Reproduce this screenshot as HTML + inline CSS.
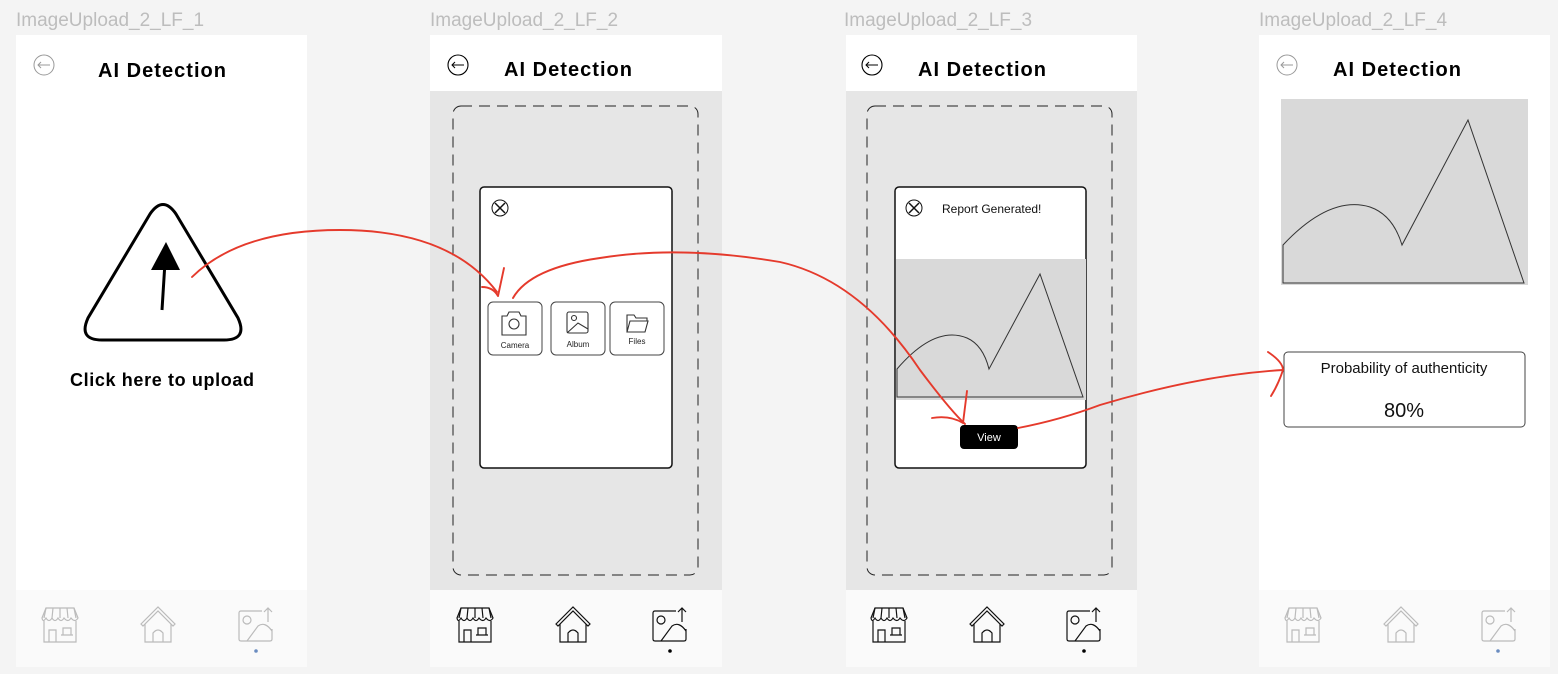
<!DOCTYPE html>
<html><head><style>
body{margin:0;background:#f4f4f4;}
svg{display:block;font-family:"Liberation Sans",sans-serif;}
</style></head><body>
<svg width="1558" height="674" viewBox="0 0 1558 674" xmlns="http://www.w3.org/2000/svg">
<defs>
<g id="store" fill="none" stroke-width="1.2">
 <path d="M2 12 L6 2 H34 L38 12 Q35 17 31 12 Q28 17 24 12 Q21 17 18 12 Q15 17 12 12 Q9 17 6 12 Q3 17 2 12 Z"/>
 <path d="M6 2 L4 12 M13 2 L12 12 M20 2 V12 M27 2 L28 12 M34 2 L36 12"/>
 <path d="M4 15 V36 H36 V15"/>
 <path d="M9 36 V24 H16 V36"/>
 <path d="M21 29 H33 M23 29 V22 H31 V29"/>
</g>
<g id="home" fill="none" stroke-width="1.2">
 <path d="M1 18 L18 1 L35 18 L33 20 L18 5 L3 20 Z"/>
 <path d="M5 18 V36 H31 V18"/>
 <path d="M13 36 V27 Q18 21 23 27 V36"/>
</g>
<g id="up" fill="none" stroke-width="1.2">
 <path d="M24 4 H3 Q1 4 1 6 V32 Q1 34 3 34 H32 Q34 34 34 32 V22"/>
 <circle cx="9" cy="13" r="4"/>
 <path d="M9 34 L20 19 Q27 14 34 24"/>
 <path d="M30 15 V1 M26 5 L30 1 L34 5"/>
</g>
</defs>

<g font-size="19" fill="#bdbdbd">
<text x="16" y="26">ImageUpload_2_LF_1</text>
<text x="430" y="26">ImageUpload_2_LF_2</text>
<text x="844" y="26">ImageUpload_2_LF_3</text>
<text x="1259" y="26">ImageUpload_2_LF_4</text>
</g>

<!-- Frame 1 -->
<rect x="16" y="35" width="291" height="632" fill="#fff"/>
<rect x="16" y="590" width="291" height="77" fill="#fafafa"/>
<circle cx="44" cy="65" r="10" fill="none" stroke="#999"/>
<path d="M38 65 H50 M41 62 L38 65 L41 68" fill="none" stroke="#999"/>
<text x="162" y="77" font-size="20" font-weight="bold" text-anchor="middle" fill="#000" textLength="128">AI Detection</text>
<path d="M150 214 Q163 195 176 214 L238 318 Q248 340 224 340 L102 340 Q78 340 88 318 Z" fill="none" stroke="#000" stroke-width="3"/>
<path d="M162 310 L165 262" stroke="#000" stroke-width="3"/>
<path d="M151 270 L166 242 L180 270 Z" fill="#000"/>
<text x="162" y="386" font-size="18" font-weight="bold" text-anchor="middle" fill="#000" textLength="184">Click here to upload</text>
<g stroke="#bbb"><use href="#store" x="40" y="606"/><use href="#home" x="140" y="606"/><use href="#up" x="238" y="607"/></g>
<circle cx="256" cy="651" r="1.8" fill="#6a8cc0"/>

<!-- Frame 2 -->
<rect x="430" y="35" width="292" height="632" fill="#fff"/>
<rect x="430" y="91" width="292" height="499" fill="#e6e6e6"/>
<rect x="430" y="590" width="292" height="77" fill="#fafafa"/>
<rect x="453" y="106" width="245" height="469" rx="8" fill="none" stroke="#222" stroke-dasharray="11,7"/>
<circle cx="458" cy="65" r="10" fill="none" stroke="#000" stroke-width="1.1"/>
<path d="M452 65 H464 M455 62 L452 65 L455 68" fill="none" stroke="#000"/>
<text x="568" y="76" font-size="20" font-weight="bold" text-anchor="middle" fill="#000" textLength="128">AI Detection</text>
<rect x="480" y="187" width="192" height="281" rx="4" fill="#fff" stroke="#111" stroke-width="1.5"/>
<circle cx="500" cy="208" r="8" fill="none" stroke="#111"/>
<path d="M495 203 L505 213 M505 203 L495 213" stroke="#111" stroke-width="1.5"/>
<g fill="#fff" stroke="#444"><rect x="488" y="302" width="54" height="53" rx="5"/><rect x="551" y="302" width="54" height="53" rx="5"/><rect x="610" y="302" width="54" height="53" rx="5"/></g>
<g fill="none" stroke="#333" stroke-width="1.1">
<path d="M502 316 H507 L509 312 H519 L521 316 H526 V335 H502 Z"/><circle cx="514" cy="324" r="5"/>
<rect x="567" y="312" width="21" height="21" rx="2"/><circle cx="574" cy="318" r="2.5"/><path d="M567 333 L578 323 L588 329"/>
<path d="M627 332 V315 H634 L636 318 H647 V321 M627 332 L630 321 H648 L645 332 Z"/>
</g>
<g font-size="8" fill="#222" text-anchor="middle"><text x="515" y="348">Camera</text><text x="578" y="347">Album</text><text x="637" y="344">Files</text></g>
<g stroke="#111"><use href="#store" x="455" y="606"/><use href="#home" x="555" y="606"/><use href="#up" x="652" y="607"/></g>
<circle cx="670" cy="651" r="1.8" fill="#000"/>

<!-- Frame 3 -->
<rect x="846" y="35" width="291" height="632" fill="#fff"/>
<rect x="846" y="91" width="291" height="499" fill="#e6e6e6"/>
<rect x="846" y="590" width="291" height="77" fill="#fafafa"/>
<rect x="867" y="106" width="245" height="469" rx="8" fill="none" stroke="#222" stroke-dasharray="11,7"/>
<circle cx="872" cy="65" r="10" fill="none" stroke="#000" stroke-width="1.1"/>
<path d="M866 65 H878 M869 62 L866 65 L869 68" fill="none" stroke="#000"/>
<text x="982" y="76" font-size="20" font-weight="bold" text-anchor="middle" fill="#000" textLength="128">AI Detection</text>
<rect x="895" y="187" width="191" height="281" rx="4" fill="#fff" stroke="#111" stroke-width="1.5"/>
<circle cx="914" cy="208" r="8" fill="none" stroke="#111"/>
<path d="M909 203 L919 213 M919 203 L909 213" stroke="#111" stroke-width="1.5"/>
<text x="942" y="213" font-size="12" fill="#111">Report Generated!</text>
<rect x="896" y="259" width="190" height="141" fill="#d9d9d9"/>
<path d="M897 397 V369 Q935 325 967 338 Q983 345 989 369 L1040 274 L1083 397 Z" fill="none" stroke="#333"/>
<rect x="960" y="425" width="58" height="24" rx="4" fill="#000"/>
<text x="989" y="441" font-size="11" fill="#fff" text-anchor="middle">View</text>
<g stroke="#111"><use href="#store" x="869" y="606"/><use href="#home" x="969" y="606"/><use href="#up" x="1066" y="607"/></g>
<circle cx="1084" cy="651" r="1.8" fill="#000"/>

<!-- Frame 4 -->
<rect x="1259" y="35" width="291" height="632" fill="#fff"/>
<rect x="1259" y="590" width="291" height="77" fill="#fafafa"/>
<circle cx="1287" cy="65" r="10" fill="none" stroke="#999"/>
<path d="M1281 65 H1293 M1284 62 L1281 65 L1284 68" fill="none" stroke="#999"/>
<text x="1397" y="76" font-size="20" font-weight="bold" text-anchor="middle" fill="#000" textLength="128">AI Detection</text>
<rect x="1281" y="99" width="247" height="186" fill="#d9d9d9"/>
<path d="M1283 283 V245 Q1330 195 1370 207 Q1393 215 1402 245 L1468 120 L1524 283 Z" fill="none" stroke="#333"/>
<rect x="1284" y="352" width="241" height="75" rx="4" fill="#fff" stroke="#444"/>
<text x="1404" y="373" font-size="15" fill="#111" text-anchor="middle">Probability of authenticity</text>
<text x="1404" y="417" font-size="20" fill="#111" text-anchor="middle">80%</text>
<g stroke="#bbb"><use href="#store" x="1283" y="606"/><use href="#home" x="1383" y="606"/><use href="#up" x="1481" y="607"/></g>
<circle cx="1498" cy="651" r="1.8" fill="#6a8cc0"/>

<g fill="none" stroke="#e53a2c" stroke-width="1.9" stroke-linecap="round">
<path d="M192 277 Q240 230 340 230 Q450 230 497 292"/>
<path d="M504 268 L498 296 M482 287 Q493 287 498 296"/>
<path d="M513 298 Q530 268 600 258 Q680 245 780 262 Q860 280 920 370 Q950 410 965 424"/>
<path d="M967 391 L963 423 M932 418 Q950 415 963 423"/>
<path d="M1018 428 Q1060 420 1100 405 Q1200 375 1283 370"/>
<path d="M1268 352 Q1283 362 1283 370 Q1278 385 1271 396"/>
</g>
</svg>
</body></html>
